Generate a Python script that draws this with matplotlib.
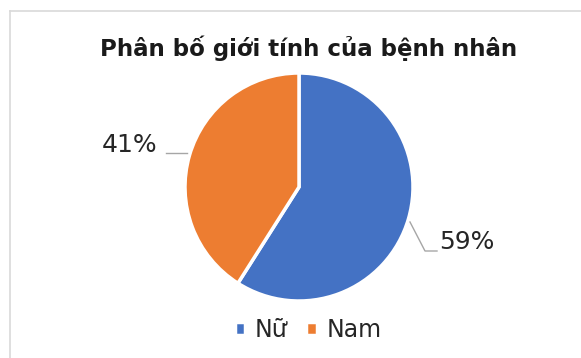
import matplotlib

matplotlib.use("Agg")
import matplotlib.pyplot as plt
from matplotlib.lines import Line2D

labels = ["Nữ", "Nam"]
shares = [59, 41]
colors = ["#4472C4", "#ED7D31"]
title = "Phân bố giới tính của bệnh nhân"

W, H = 581, 358
fig = plt.figure(figsize=(W / 100, H / 100), dpi=100)
fig.patch.set_facecolor("white")


def px(x, y):
    # pixel position -> figure fraction
    return x / W, 1 - y / H


# faint chart frame (cropped at right/bottom)
fig.add_artist(Line2D([10 / W, 1], [1 - 11 / H, 1 - 11 / H], color="#D9D9D9", lw=1.2))
fig.add_artist(Line2D([10 / W, 10 / W], [0, 1 - 11 / H], color="#D9D9D9", lw=1.2))

cx, cy, r = 299, 187, 114
ax = fig.add_axes([(cx - r) / W, 1 - (cy + r) / H, 2 * r / W, 2 * r / H])
wedges, _ = ax.pie(
    shares,
    colors=colors,
    startangle=90,
    counterclock=False,
    wedgeprops=dict(edgecolor="white", linewidth=2.5),
)
ax.set_xlim(-1, 1)
ax.set_ylim(-1, 1)
ax.set_aspect("equal")

fig.text(*px(309, 48), title, ha="center", va="center",
         fontsize=16.5, fontweight="bold", color="#1a1a1a")

# data labels with leader lines
lc = "#A6A6A6"
fig.add_artist(Line2D(*zip(px(166, 153), px(187, 153)), color=lc, lw=1))
fig.text(*px(130, 145), f"{shares[1]}%", ha="center", va="center", fontsize=18, color="#262626")
fig.add_artist(Line2D(*zip(px(410, 222), px(425, 251), px(437, 251)), color=lc, lw=1))
fig.text(*px(467, 242), f"{shares[0]}%", ha="center", va="center", fontsize=18, color="#262626")

leg = fig.legend(
    wedges, labels, loc="center", bbox_to_anchor=px(308, 330),
    ncol=2, frameon=False, fontsize=17, handlelength=0.45, handleheight=0.45,
    handletextpad=0.4, columnspacing=0.8, borderpad=0,
)
for t in leg.get_texts():
    t.set_color("#262626")

fig.savefig("out.png", dpi=100)
